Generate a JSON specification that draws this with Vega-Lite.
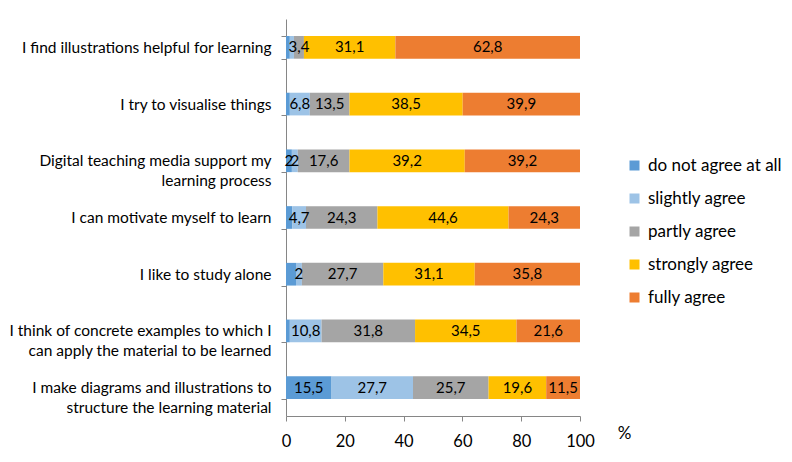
{
  "$schema": "https://vega.github.io/schema/vega-lite/v6.json",
  "width": 294,
  "height": 397,
  "autosize": {"type": "none"},
  "padding": {"left": 286, "top": 19, "right": 212, "bottom": 46},
  "background": "white",
  "config": {"view": {"stroke": null}, "font": "Lato"},
  "data": {"values": [
    {"q": "I find illustrations helpful for learning", "cat": "do not agree at all", "k": 0, "value": 1.3, "label": ""},
    {"q": "I find illustrations helpful for learning", "cat": "slightly agree", "k": 1, "value": 1.4, "label": ""},
    {"q": "I find illustrations helpful for learning", "cat": "partly agree", "k": 2, "value": 3.4, "label": "3,4"},
    {"q": "I find illustrations helpful for learning", "cat": "strongly agree", "k": 3, "value": 31.1, "label": "31,1"},
    {"q": "I find illustrations helpful for learning", "cat": "fully agree", "k": 4, "value": 62.8, "label": "62,8"},
    {"q": "I try to visualise things", "cat": "do not agree at all", "k": 0, "value": 1.3, "label": ""},
    {"q": "I try to visualise things", "cat": "slightly agree", "k": 1, "value": 6.8, "label": "6,8"},
    {"q": "I try to visualise things", "cat": "partly agree", "k": 2, "value": 13.5, "label": "13,5"},
    {"q": "I try to visualise things", "cat": "strongly agree", "k": 3, "value": 38.5, "label": "38,5"},
    {"q": "I try to visualise things", "cat": "fully agree", "k": 4, "value": 39.9, "label": "39,9"},
    {"q": "Digital teaching media support my learning process", "cat": "do not agree at all", "k": 0, "value": 2, "label": "2"},
    {"q": "Digital teaching media support my learning process", "cat": "slightly agree", "k": 1, "value": 2, "label": "2"},
    {"q": "Digital teaching media support my learning process", "cat": "partly agree", "k": 2, "value": 17.6, "label": "17,6"},
    {"q": "Digital teaching media support my learning process", "cat": "strongly agree", "k": 3, "value": 39.2, "label": "39,2"},
    {"q": "Digital teaching media support my learning process", "cat": "fully agree", "k": 4, "value": 39.2, "label": "39,2"},
    {"q": "I can motivate myself to learn", "cat": "do not agree at all", "k": 0, "value": 2.1, "label": ""},
    {"q": "I can motivate myself to learn", "cat": "slightly agree", "k": 1, "value": 4.7, "label": "4,7"},
    {"q": "I can motivate myself to learn", "cat": "partly agree", "k": 2, "value": 24.3, "label": "24,3"},
    {"q": "I can motivate myself to learn", "cat": "strongly agree", "k": 3, "value": 44.6, "label": "44,6"},
    {"q": "I can motivate myself to learn", "cat": "fully agree", "k": 4, "value": 24.3, "label": "24,3"},
    {"q": "I like to study alone", "cat": "do not agree at all", "k": 0, "value": 3.4, "label": ""},
    {"q": "I like to study alone", "cat": "slightly agree", "k": 1, "value": 2, "label": "2"},
    {"q": "I like to study alone", "cat": "partly agree", "k": 2, "value": 27.7, "label": "27,7"},
    {"q": "I like to study alone", "cat": "strongly agree", "k": 3, "value": 31.1, "label": "31,1"},
    {"q": "I like to study alone", "cat": "fully agree", "k": 4, "value": 35.8, "label": "35,8"},
    {"q": "I think of concrete examples to which I can apply the material to be learned", "cat": "do not agree at all", "k": 0, "value": 1.3, "label": ""},
    {"q": "I think of concrete examples to which I can apply the material to be learned", "cat": "slightly agree", "k": 1, "value": 10.8, "label": "10,8"},
    {"q": "I think of concrete examples to which I can apply the material to be learned", "cat": "partly agree", "k": 2, "value": 31.8, "label": "31,8"},
    {"q": "I think of concrete examples to which I can apply the material to be learned", "cat": "strongly agree", "k": 3, "value": 34.5, "label": "34,5"},
    {"q": "I think of concrete examples to which I can apply the material to be learned", "cat": "fully agree", "k": 4, "value": 21.6, "label": "21,6"},
    {"q": "I make diagrams and illustrations to structure the learning material", "cat": "do not agree at all", "k": 0, "value": 15.5, "label": "15,5"},
    {"q": "I make diagrams and illustrations to structure the learning material", "cat": "slightly agree", "k": 1, "value": 27.7, "label": "27,7"},
    {"q": "I make diagrams and illustrations to structure the learning material", "cat": "partly agree", "k": 2, "value": 25.7, "label": "25,7"},
    {"q": "I make diagrams and illustrations to structure the learning material", "cat": "strongly agree", "k": 3, "value": 19.6, "label": "19,6"},
    {"q": "I make diagrams and illustrations to structure the learning material", "cat": "fully agree", "k": 4, "value": 11.5, "label": "11,5"}
  ]},
  "transform": [
    {"stack": "value", "groupby": ["q"], "sort": [{"field": "k", "order": "ascending"}], "as": ["x0", "x1"]},
    {"calculate": "(datum.x0 + datum.x1) / 2", "as": "mid"}
  ],
  "encoding": {
    "y": {
      "field": "q", "type": "nominal", "title": null,
      "sort": [
        "I find illustrations helpful for learning",
        "I try to visualise things",
        "Digital teaching media support my learning process",
        "I can motivate myself to learn",
        "I like to study alone",
        "I think of concrete examples to which I can apply the material to be learned",
        "I make diagrams and illustrations to structure the learning material"
      ],
      "scale": {"paddingInner": 0.6, "paddingOuter": 0.3},
      "axis": {
        "labelExpr": "datum.value == 'Digital teaching media support my learning process' ? ['Digital teaching media support my', 'learning process'] : datum.value == 'I think of concrete examples to which I can apply the material to be learned' ? ['I think of concrete examples to which I', 'can apply the material to be learned'] : datum.value == 'I make diagrams and illustrations to structure the learning material' ? ['I make diagrams and illustrations to', 'structure the learning material'] : datum.value",
        "labelFontSize": 15.5,
        "labelColor": "#000000",
        "labelLimit": 300,
        "labelPadding": 10,
        "labelLineHeight": 20,
        "domainColor": "#868686",
        "tickColor": "#868686",
        "tickSize": 5,
        "tickBand": "extent",
        "labelBaseline": "middle",
        "encode": {"labels": {"update": {"baseline": {"signal": "length(datum.value) > 45 ? 'line-bottom' : 'middle'"}}}}
      }
    }
  },
  "layer": [
    {
      "mark": {"type": "bar"},
      "encoding": {
        "x": {"field": "x0", "type": "quantitative", "scale": {"domain": [0, 100], "nice": false},
          "axis": {
            "values": [0, 20, 40, 60, 80, 100],
            "grid": false,
            "labelFlush": false,
            "labelOverlap": false,
            "title": "%",
            "titleFontSize": 17, "titleFontWeight": "normal", "titleColor": "#000000",
            "titleX": 338, "titleY": 17, "titleAlign": "center", "titleBaseline": "middle",
            "labelFontSize": 16.5, "labelColor": "#000000", "labelPadding": 12,
            "domainColor": "#868686", "tickColor": "#868686", "tickSize": 5
          }},
        "x2": {"field": "x1"},
        "color": {
          "field": "cat", "type": "nominal",
          "scale": {
            "domain": ["do not agree at all", "slightly agree", "partly agree", "strongly agree", "fully agree"],
            "range": ["#5B9BD5", "#9DC3E6", "#A5A5A5", "#FFC000", "#ED7D31"]
          },
          "legend": {
            "title": null,
            "orient": "none",
            "legendX": 340,
            "legendY": 138,
            "symbolType": "square",
            "symbolSize": 100,
            "symbolStrokeWidth": 0,
            "labelFontSize": 17,
            "labelColor": "#000000",
            "labelOffset": 5,
            "rowPadding": 15,
            "labelLimit": 300
          }
        }
      }
    },
    {
      "mark": {"type": "text", "fontSize": 15, "color": "#000000", "baseline": "middle", "align": "center"},
      "encoding": {
        "x": {"field": "mid", "type": "quantitative"},
        "text": {"field": "label"}
      }
    }
  ]
}
